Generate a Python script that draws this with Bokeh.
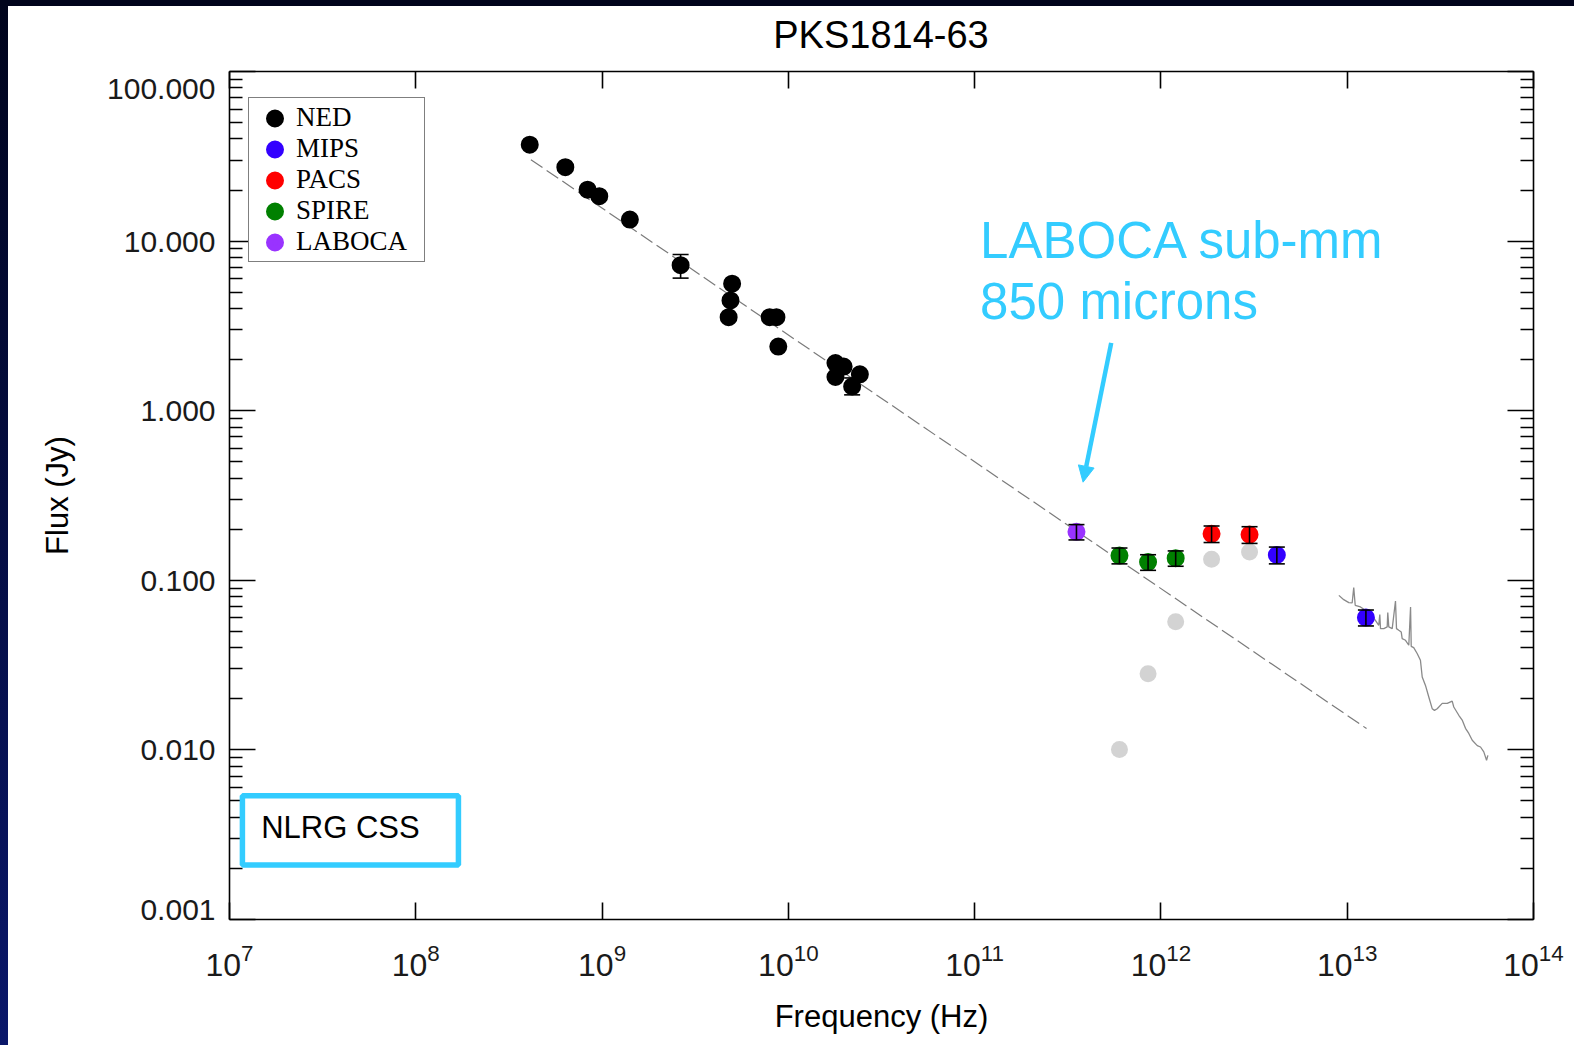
from bokeh.plotting import figure
from bokeh.models import (LogAxis, FixedTicker, PrintfTickFormatter, LogTickFormatter,
                          CustomJSTickFormatter, Legend, LegendItem, Whisker, TeeHead,
                          ColumnDataSource, Label, Arrow, NormalHead, BoxAnnotation, Range1d, Div)
from bokeh.layouts import column
from bokeh.embed import file_html
from bokeh.resources import INLINE

# ---------------------------------------------------------------- data
TITLE = "PKS1814-63"
X_LABEL = "Frequency (Hz)"
Y_LABEL = "Flux (Jy)"

X_TICKS = [1e7, 1e8, 1e9, 1e10, 1e11, 1e12, 1e13, 1e14]
Y_TICKS = [0.001, 0.01, 0.1, 1.0, 10.0, 100.0]
Y_TICK_LABELS = ["0.001", "0.010", "0.100", "1.000", "10.000", "100.000"]

# NED radio photometry
ned_freq = [4.09e8, 6.35e8, 8.36e8, 9.66e8, 1.41e9, 2.64e9, 4.99e9, 4.89e9, 4.78e9,
            7.94e9, 8.63e9, 8.83e9, 1.79e10, 1.98e10, 1.79e10, 2.42e10, 2.20e10]
ned_flux = [37.0, 27.3, 20.1, 18.4, 13.4, 7.21, 5.61, 4.47, 3.56,
            3.56, 3.56, 2.39, 1.91, 1.82, 1.58, 1.64, 1.39]
ned_err_freq = [2.64e9, 2.20e10]
ned_err_lo = [6.05, 1.24]
ned_err_hi = [8.34, 1.56]

# Spitzer MIPS
mips_freq = [4.19e12, 1.26e13]
mips_flux = [0.141, 0.0603]
mips_err = [0.016, 0.0065]

# Herschel PACS
pacs_freq = [1.87e12, 2.99e12]
pacs_flux = [0.188, 0.186]
pacs_err = [0.021, 0.021]

# Herschel SPIRE
spire_freq = [5.99e11, 8.53e11, 1.20e12]
spire_flux = [0.140, 0.128, 0.135]
spire_err = [0.015, 0.0135, 0.014]

# APEX LABOCA 850 micron
laboca_freq = [3.52e11]
laboca_flux = [0.193]
laboca_err = [0.020]

# far-IR / sub-mm residuals after removing the synchrotron component
resid_freq = [5.99e11, 8.53e11, 1.20e12, 1.87e12, 2.99e12]
resid_flux = [0.01005, 0.0281, 0.0570, 0.133, 0.147]

# power-law fit to the radio data (end points)
fit_freq = [4.15e8, 1.27e13]
fit_flux = [30.2, 0.01336]

# Spitzer IRS spectrum
irs_freq = [9.02e12, 9.58e12, 1.020e13, 1.063e13, 1.084e13, 1.104e13, 1.178e13, 1.253e13,
            1.333e13, 1.417e13, 1.477e13, 1.496e13, 1.509e13, 1.572e13, 1.639e13, 1.651e13,
            1.672e13, 1.744e13, 1.816e13, 1.839e13, 1.892e13, 1.950e13, 1.973e13, 2.056e13,
            2.141e13, 2.188e13, 2.206e13, 2.275e13, 2.374e13, 2.472e13, 2.527e13, 2.631e13,
            2.741e13, 2.859e13, 2.941e13, 3.041e13, 3.236e13, 3.443e13, 3.661e13, 3.733e13,
            3.972e13, 4.142e13, 4.315e13, 4.495e13, 4.690e13, 4.990e13, 5.195e13, 5.41e13,
            5.598e13, 5.69e13]
irs_flux = [0.0815, 0.0769, 0.0739, 0.0735, 0.0906, 0.0712, 0.0696, 0.0665,
            0.0636, 0.0581, 0.0543, 0.0628, 0.0519, 0.0519, 0.0531, 0.0645,
            0.0531, 0.0519, 0.0755, 0.0519, 0.0507, 0.0495, 0.0453, 0.0443,
            0.0414, 0.0696, 0.0408, 0.0401, 0.0370, 0.0338, 0.0269, 0.0240,
            0.0205, 0.0175, 0.0171, 0.0175, 0.0188, 0.0188, 0.0194, 0.0179,
            0.0160, 0.0150, 0.0134, 0.0125, 0.0114, 0.0106, 0.0104, 0.00973,
            0.00869, 0.00929]

# annotation anchors
note_lines = ["LABOCA sub-mm", "850 microns"]
note_pos = [(1.07e11, 10.1), (1.07e11, 4.42)]
arrow_from = (5.41e11, 2.51)
arrow_to = (3.82e11, 0.379)
class_text = "NLRG CSS"
class_pos = (1.479e7, 0.00347)
class_box = dict(left=1.173e7, right=1.694e8, top=0.00537, bottom=0.002094)

# ---------------------------------------------------------------- style
SANS = "Liberation Sans"
SERIF = "Liberation Serif"
CYAN = "#33ccff"
COL_NED = "black"
COL_MIPS = "#3300ff"
COL_PACS = "#ff0000"
COL_SPIRE = "#008000"
COL_LABOCA = "#9933ff"
COL_RESID = "#d3d3d3"
TXT = "#1a1a1a"
PAGE_BG = ("linear-gradient(#00041c, #00041c) left top / 100% 6px no-repeat, "
           "linear-gradient(to bottom, #00041c, #0a176a) left top / 8px 100% no-repeat, "
           "#ffffff")

BORDER_L, BORDER_R, BORDER_T, BORDER_B = 221, 41, 5, 126
HEAD_H = 60

# heading strip above the plot, centred over the plotting frame
heading = Div(
    text=(f'<div style="margin-left:{BORDER_L}px;width:1304px;text-align:center;'
          f'font-family:\'Liberation Sans\';font-size:38px;line-height:58px;color:black">'
          f'{TITLE}</div>'),
    width=1566, height=HEAD_H, margin=(6, 0, 0, 8),
    styles={"background-color": "white"})

p = figure(width=1566, height=1039 - HEAD_H, x_axis_type="log", y_axis_type="log",
           x_range=Range1d(X_TICKS[0], X_TICKS[-1]), y_range=Range1d(Y_TICKS[0], Y_TICKS[-1]),
           output_backend="svg", toolbar_location=None,
           min_border_left=BORDER_L, min_border_right=BORDER_R,
           min_border_top=BORDER_T, min_border_bottom=BORDER_B,
           background_fill_color="white", border_fill_color="white")
p.margin = (0, 0, 0, 8)
p.grid.visible = False
p.outline_line_color = None

minor_y = [m * t for t in Y_TICKS[:-1] for m in range(2, 10)]


def style_axis(ax, tick_in, minor_in):
    ax.axis_line_color = "black"
    ax.axis_line_width = 1.6
    ax.major_tick_line_color = "black"
    ax.major_tick_line_width = 1.6
    ax.major_tick_in = tick_in
    ax.major_tick_out = 0
    if minor_in:
        ax.minor_tick_line_color = "black"
        ax.minor_tick_line_width = 1.6
        ax.minor_tick_in = minor_in
        ax.minor_tick_out = 0
    else:
        ax.minor_tick_line_color = None


xa = p.xaxis[0]
xa.ticker = FixedTicker(ticks=X_TICKS, minor_ticks=[])
xa.formatter = LogTickFormatter()
style_axis(xa, 17, 0)
xa.major_label_text_font = SANS
xa.major_label_text_font_size = "32px"
xa.major_label_text_color = TXT
xa.major_label_standoff = 24
xa.axis_label = X_LABEL
xa.axis_label_text_font = SANS
xa.axis_label_text_font_size = "31px"
xa.axis_label_text_font_style = "normal"
xa.axis_label_text_color = "black"
xa.axis_label_standoff = 20

ya = p.yaxis[0]
ya.ticker = FixedTicker(ticks=Y_TICKS, minor_ticks=minor_y)
ya.formatter = PrintfTickFormatter(format="%.3f")
# the end labels are nudged inside the frame by padding them with empty lines
ya.major_label_overrides = {Y_TICKS[0]: Y_TICK_LABELS[0] + "\n\n\n\n",
                            Y_TICKS[-1]: "\n" + Y_TICK_LABELS[-1]}
ya.major_label_text_line_height = 0.155
style_axis(ya, 26, 13)
ya.major_label_text_font = SANS
ya.major_label_text_font_size = "30px"
ya.major_label_text_color = TXT
ya.major_label_standoff = 14
ya.axis_label = Y_LABEL
ya.axis_label_text_font = SANS
ya.axis_label_text_font_size = "31px"
ya.axis_label_text_font_style = "normal"
ya.axis_label_text_color = "black"
ya.axis_label_standoff = 29

# mirrored axes on the top and right carry ticks only
blank = CustomJSTickFormatter(code="return ''")
top = LogAxis(ticker=FixedTicker(ticks=X_TICKS, minor_ticks=[]), formatter=blank,
              major_label_standoff=0, major_label_text_font_size="0px")
style_axis(top, 17, 0)
p.add_layout(top, "above")
right = LogAxis(ticker=FixedTicker(ticks=Y_TICKS, minor_ticks=minor_y), formatter=blank,
                major_label_standoff=0, major_label_text_font_size="0px")
style_axis(right, 26, 13)
p.add_layout(right, "right")

# ---------------------------------------------------------------- marks
p.line(fit_freq, fit_flux, line_color="#7a7a7a", line_width=1.2, line_dash="14 5")
p.line(irs_freq, irs_flux, line_color="#8a8a8a", line_width=1.3)

p.scatter(resid_freq, resid_flux, size=17, marker="circle", fill_color=COL_RESID,
          line_color=None)


def dots(xs, ys, color):
    # a thick outline in the fill colour keeps the legend swatch as large as the dots
    return p.scatter(xs, ys, size=12, marker="circle", fill_color=color,
                     line_color=color, line_width=6)


r_ned = dots(ned_freq, ned_flux, COL_NED)
r_mips = dots(mips_freq, mips_flux, COL_MIPS)
r_pacs = dots(pacs_freq, pacs_flux, COL_PACS)
r_spire = dots(spire_freq, spire_flux, COL_SPIRE)
r_laboca = dots(laboca_freq, laboca_flux, COL_LABOCA)

# error bars
eb_x, eb_lo, eb_hi = list(ned_err_freq), list(ned_err_lo), list(ned_err_hi)
for fr, fl, er in [(mips_freq, mips_flux, mips_err), (pacs_freq, pacs_flux, pacs_err),
                   (spire_freq, spire_flux, spire_err), (laboca_freq, laboca_flux, laboca_err)]:
    eb_x += fr
    eb_lo += [f - e for f, e in zip(fl, er)]
    eb_hi += [f + e for f, e in zip(fl, er)]
eb_src = ColumnDataSource(dict(x=eb_x, lo=eb_lo, hi=eb_hi))
p.add_layout(Whisker(base="x", lower="lo", upper="hi", source=eb_src, dimension="height",
                     level="annotation", line_color="black", line_width=1.6,
                     upper_head=TeeHead(size=16, line_color="black", line_width=1.6),
                     lower_head=TeeHead(size=16, line_color="black", line_width=1.6)))

# ---------------------------------------------------------------- legend
legend = Legend(items=[LegendItem(label="NED", renderers=[r_ned]),
                       LegendItem(label="MIPS", renderers=[r_mips]),
                       LegendItem(label="PACS", renderers=[r_pacs]),
                       LegendItem(label="SPIRE", renderers=[r_spire]),
                       LegendItem(label="LABOCA", renderers=[r_laboca])],
                location=(19, 657), glyph_width=43, glyph_height=30, spacing=0,
                padding=4, margin=0, label_standoff=0, label_width=124, label_height=20,
                label_text_font=SERIF, label_text_font_size="27px", label_text_color="black",
                border_line_color="black", border_line_width=1.2,
                background_fill_color="white", background_fill_alpha=1.0)
p.add_layout(legend)

# ---------------------------------------------------------------- notes
for txt, (nx, ny) in zip(note_lines, note_pos):
    p.add_layout(Label(x=nx, y=ny, text=txt, text_align="left", text_baseline="alphabetic",
                       text_font=SANS, text_font_size="51px", text_color=CYAN))
p.add_layout(Arrow(x_start=arrow_from[0], y_start=arrow_from[1],
                   x_end=arrow_to[0], y_end=arrow_to[1],
                   line_color=CYAN, line_width=4.5,
                   end=NormalHead(size=16, fill_color=CYAN, line_color=CYAN)))

p.add_layout(BoxAnnotation(fill_alpha=0, line_color=CYAN, line_alpha=1.0, line_width=5.5,
                           **class_box))
p.add_layout(Label(x=class_pos[0], y=class_pos[1], text=class_text, text_align="left",
                   text_baseline="alphabetic", text_font=SANS, text_font_size="31px",
                   text_color="black"))

page = column(heading, p, styles={"background": PAGE_BG})
open("out.html", "w").write(file_html(page, INLINE))
